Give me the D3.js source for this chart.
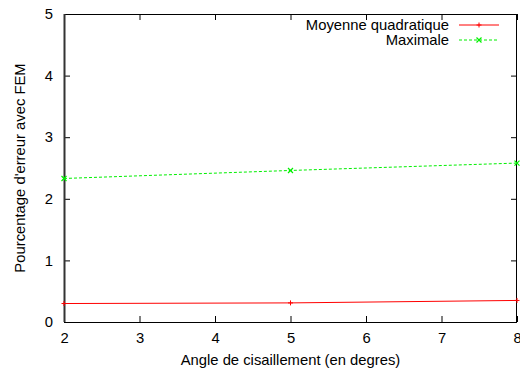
<!DOCTYPE html>
<html><head><meta charset="utf-8">
<script src="https://cdn.jsdelivr.net/npm/d3@7"></script>
<style>html,body{margin:0;padding:0;background:#fff;overflow:hidden}</style>
</head><body>
<svg id="c" width="520" height="372"></svg>
<script>
const angles = [2, 5, 8];
const moyenne = [0.30, 0.31, 0.35];
const maximale = [2.33, 2.46, 2.58];
const xTicks = [2, 3, 4, 5, 6, 7, 8];
const yTicks = [0, 1, 2, 3, 4, 5];
const seriesNames = ["Moyenne quadratique", "Maximale"];

const svg = d3.select("#c");
const L = 64, R = 517, T = 14, B = 322;
const x = d3.scaleLinear().domain([2, 8]).range([L, R]);
const y = d3.scaleLinear().domain([0, 5]).range([B, T]);
const font = "'Liberation Sans', Arial, Helvetica, sans-serif";
const fs = 14.8;

const tl = 6;
const g = svg.append("g");
g.append("g").attr("transform", `translate(0,${B})`)
  .call(d3.axisBottom(x).tickValues(xTicks).tickFormat(d3.format("d")).tickSizeInner(-tl).tickSizeOuter(0).tickPadding(10))
  .call(s => s.select(".domain").remove());
g.append("g").attr("transform", `translate(0,${T})`)
  .call(d3.axisTop(x).tickValues(xTicks).tickFormat("").tickSizeInner(-tl).tickSizeOuter(0))
  .call(s => s.select(".domain").remove());
g.append("g").attr("transform", `translate(${L},0)`)
  .call(d3.axisLeft(y).tickValues(yTicks).tickFormat(d3.format("d")).tickSizeInner(-tl).tickSizeOuter(0).tickPadding(11))
  .call(s => s.select(".domain").remove());
g.append("g").attr("transform", `translate(${R},0)`)
  .call(d3.axisRight(y).tickValues(yTicks).tickFormat("").tickSizeInner(-tl).tickSizeOuter(0))
  .call(s => s.select(".domain").remove());
g.selectAll(".tick line").attr("stroke", "#000").attr("stroke-width", 1);
g.selectAll(".tick text").attr("font-family", font).attr("font-size", fs).attr("fill", "#000");

svg.append("rect").attr("x", L + 0.5).attr("y", T + 0.5).attr("width", R - L - 1).attr("height", B - T)
  .attr("fill", "none").attr("stroke", "#000").attr("stroke-width", 1);
svg.append("line").attr("x1", L + 0.5).attr("x2", L + 0.5).attr("y1", T).attr("y2", B)
  .attr("stroke", "#333").attr("stroke-width", 2);

svg.append("text").attr("x", (L + R) / 2).attr("y", 365).attr("text-anchor", "middle")
  .attr("font-family", font).attr("font-size", fs).text("Angle de cisaillement (en degres)");
svg.append("text").attr("transform", `translate(25,${(T + B) / 2}) rotate(-90)`).attr("text-anchor", "middle")
  .attr("font-family", font).attr("font-size", fs).text("Pourcentage d'erreur avec FEM");

const line = d3.line().x(d => x(d[0])).y(d => y(d[1]));
const m = 2.5;
const plus = (sel, cx, cy, c) => {
  sel.append("path").attr("d", `M${cx-m},${cy}H${cx+m}M${cx},${cy-m}V${cy+m}`).attr("stroke", c).attr("stroke-width", 1);
};
const cross = (sel, cx, cy, c) => {
  sel.append("path").attr("d", `M${cx-m},${cy-m}L${cx+m},${cy+m}M${cx-m},${cy+m}L${cx+m},${cy-m}`).attr("stroke", c).attr("stroke-width", 1.2);
};

const series = [
  {name: seriesNames[0], vals: moyenne, color: "#ff0000", dash: null, mark: plus},
  {name: seriesNames[1], vals: maximale, color: "#00f000", dash: "3,2", mark: cross}
];
series.forEach((s, i) => {
  const pts = angles.map((a, j) => [a, s.vals[j]]);
  svg.append("path").attr("d", line(pts)).attr("fill", "none").attr("stroke", s.color)
    .attr("stroke-width", 1).attr("stroke-dasharray", s.dash);
  const mg = svg.append("g");
  pts.forEach(p => s.mark(mg, x(p[0]), y(p[1]), s.color));
  const ly = 25 + i * 15;
  svg.append("text").attr("x", 449).attr("y", ly + 5).attr("text-anchor", "end")
    .attr("font-family", font).attr("font-size", fs).text(s.name);
  svg.append("line").attr("x1", 459).attr("x2", 499).attr("y1", ly).attr("y2", ly)
    .attr("stroke", s.color).attr("stroke-dasharray", s.dash);
  s.mark(svg, 479, ly, s.color);
});
</script>
</body></html>
